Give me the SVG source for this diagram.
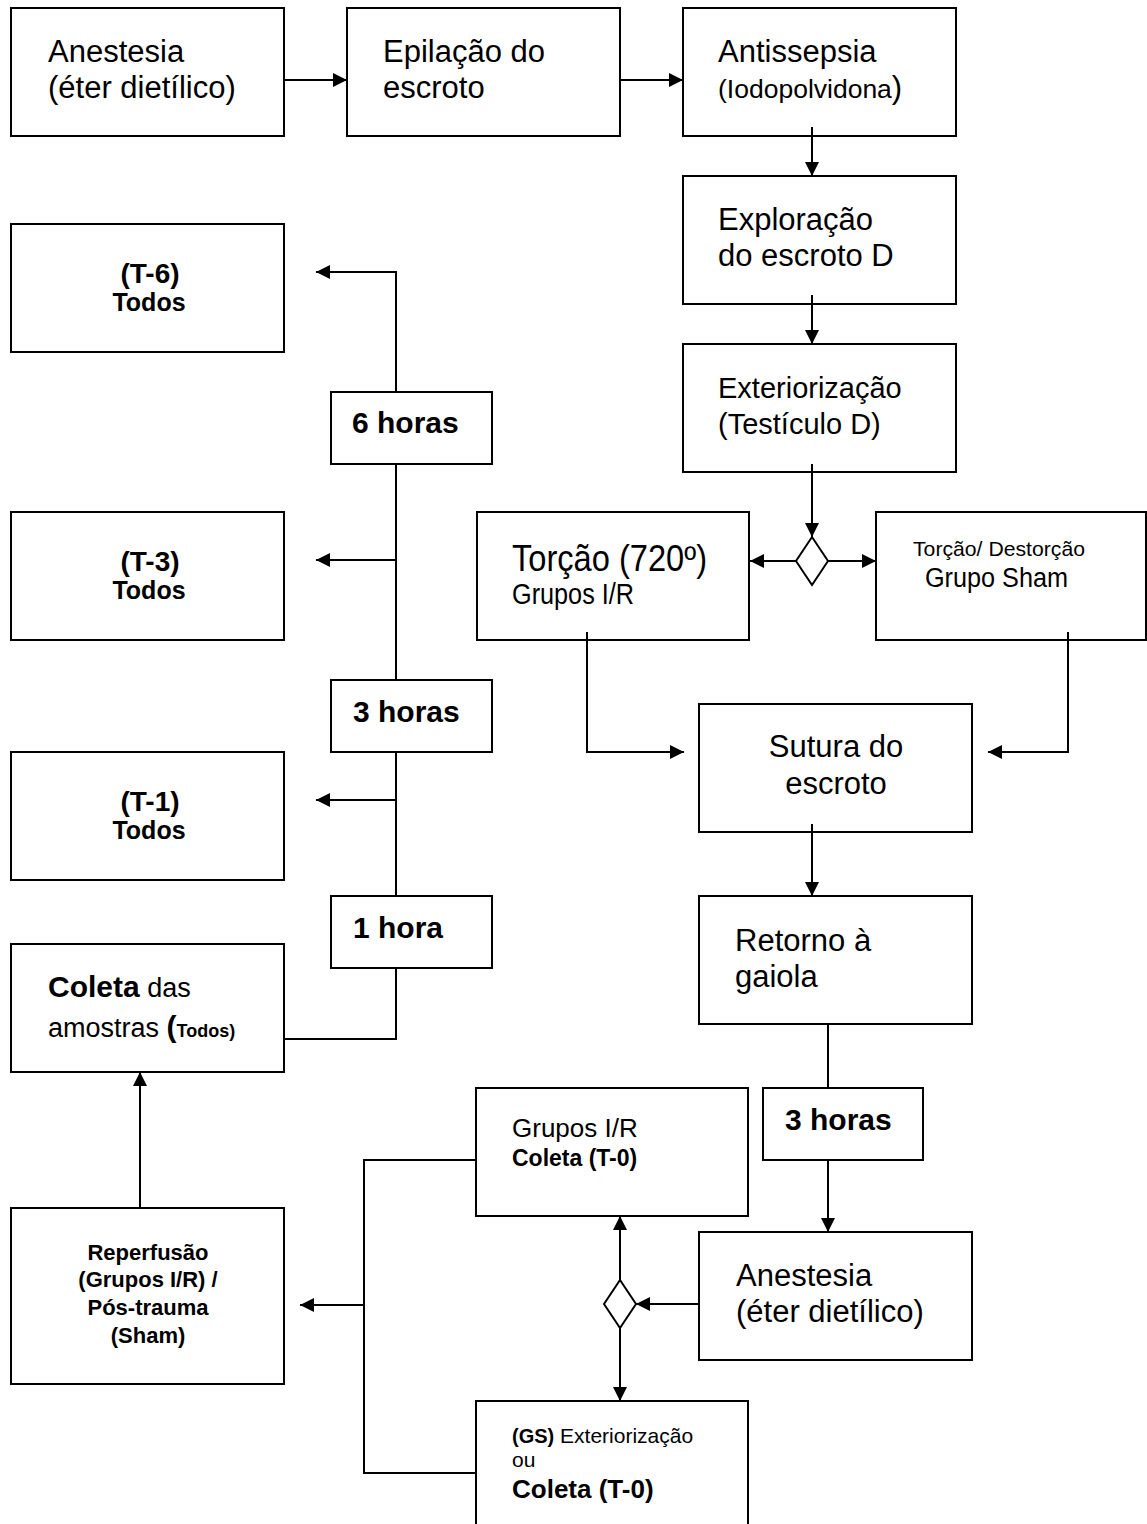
<svg xmlns="http://www.w3.org/2000/svg" width="1147" height="1524" viewBox="0 0 1147 1524">
<style>
.box{fill:#fff;stroke:#000;stroke-width:2}
.ln{fill:none;stroke:#000;stroke-width:2}
.ar{marker-end:url(#ah)}
text{font-family:"Liberation Sans",Arial,sans-serif;fill:#000}
.r31{font-size:31px}
.b30{font-size:30px;font-weight:bold}
.b{font-weight:bold}
.c{text-anchor:middle}
</style>
<defs>
<marker id="ah" markerUnits="userSpaceOnUse" markerWidth="15" markerHeight="14" refX="14" refY="7" orient="auto">
<path d="M0,0 L14,7 L0,14 z" fill="#000"/>
</marker>
</defs>
<rect width="1147" height="1524" fill="#fff"/>
<g id="n-anestesia1"><rect class="box" x="11" y="8" width="273" height="128"/>
<text class="r31" x="48" y="62">Anestesia</text><text class="r31" x="48" y="98">(éter dietílico)</text></g>
<g id="n-epilacao"><rect class="box" x="347" y="8" width="273" height="128"/>
<text class="r31" x="383" y="62">Epilação do</text><text class="r31" x="383" y="98">escroto</text></g>
<g id="n-antissepsia"><rect class="box" x="683" y="8" width="273" height="128"/>
<text class="r31" x="718" y="62">Antissepsia</text><text x="718" y="98" font-size="26.5">(Iodopolvidona<tspan font-size="31">)</tspan></text></g>
<g id="n-exploracao"><rect class="box" x="683" y="176" width="273" height="128"/>
<text class="r31" x="718" y="230">Exploração</text><text class="r31" x="718" y="266">do escroto D</text></g>
<g id="n-exteriorizacao"><rect class="box" x="683" y="344" width="273" height="128"/>
<text x="718" y="398" font-size="29">Exteriorização</text><text x="718" y="434" font-size="29">(Testículo D)</text></g>
<g id="n-torcao"><rect class="box" x="477" y="512" width="272" height="128"/>
<text x="512" y="571" font-size="36" textLength="195" lengthAdjust="spacingAndGlyphs">Torção (720º)</text>
<text x="512" y="604" font-size="29" textLength="122" lengthAdjust="spacingAndGlyphs">Grupos I/R</text></g>
<g id="n-sham"><rect class="box" x="876" y="512" width="270" height="128"/>
<text x="913" y="556" font-size="21" textLength="172" lengthAdjust="spacingAndGlyphs">Torção/ Destorção</text>
<text x="925" y="587" font-size="27" textLength="143" lengthAdjust="spacingAndGlyphs">Grupo Sham</text></g>
<g id="d-1"><path class="box" d="M812,537 L828,561 L812,585 L796,561 z"/></g>
<g id="n-sutura"><rect class="box" x="699" y="704" width="273" height="128"/>
<text class="r31 c" x="836" y="757">Sutura do</text><text class="r31 c" x="836" y="794">escroto</text></g>
<g id="n-retorno"><rect class="box" x="699" y="896" width="273" height="128"/>
<text class="r31" x="735" y="951">Retorno à</text><text class="r31" x="735" y="987">gaiola</text></g>
<g id="n-3horas-r"><rect class="box" x="763" y="1088" width="160" height="72"/>
<text class="b30" x="785" y="1130">3 horas</text></g>
<g id="n-anestesia2"><rect class="box" x="699" y="1232" width="273" height="128"/>
<text class="r31" x="736" y="1286">Anestesia</text><text class="r31" x="736" y="1322">(éter dietílico)</text></g>
<g id="n-grupos-ir"><rect class="box" x="476" y="1088" width="272" height="128"/>
<text x="512" y="1137" font-size="26">Grupos I/R</text><text class="b" x="512" y="1166" font-size="23">Coleta (T-0)</text></g>
<g id="d-2"><path class="box" d="M620,1280 L636,1304 L620,1328 L604,1304 z"/></g>
<g id="n-gs"><rect class="box" x="476" y="1401" width="272" height="140"/>
<text x="512" y="1443" font-size="21"><tspan class="b" font-size="20">(GS)</tspan> Exteriorização</text>
<text x="512" y="1467" font-size="21">ou</text>
<text class="b" x="512" y="1498" font-size="26">Coleta (T-0)</text></g>
<g id="n-reperfusao"><rect class="box" x="11" y="1208" width="273" height="176"/>
<text class="b c" x="148" y="1260" font-size="22">Reperfusão</text>
<text class="b c" x="148" y="1287" font-size="22">(Grupos I/R) /</text>
<text class="b c" x="148" y="1315" font-size="22">Pós-trauma</text>
<text class="b c" x="148" y="1343" font-size="22">(Sham)</text></g>
<g id="n-coleta"><rect class="box" x="11" y="944" width="273" height="128"/>
<text x="48" y="997"><tspan class="b" font-size="30">Coleta</tspan><tspan font-size="27"> das</tspan></text>
<text x="48" y="1037"><tspan font-size="27">amostras </tspan><tspan class="b" font-size="30">(</tspan><tspan class="b" font-size="18">Todos)</tspan></text></g>
<g id="n-1hora"><rect class="box" x="331" y="896" width="161" height="72"/>
<text class="b30" x="353" y="938">1 hora</text></g>
<g id="n-3horas-l"><rect class="box" x="331" y="680" width="161" height="72"/>
<text class="b30" x="353" y="722">3 horas</text></g>
<g id="n-6horas"><rect class="box" x="331" y="392" width="161" height="72"/>
<text class="b30" x="352" y="433">6 horas</text></g>
<g id="n-t1"><rect class="box" x="11" y="752" width="273" height="128"/>
<text class="b c" x="150" y="811" font-size="28">(T-1)</text><text class="b c" x="149" y="839" font-size="25">Todos</text></g>
<g id="n-t3"><rect class="box" x="11" y="512" width="273" height="128"/>
<text class="b c" x="150" y="571" font-size="28">(T-3)</text><text class="b c" x="149" y="599" font-size="25">Todos</text></g>
<g id="n-t6"><rect class="box" x="11" y="224" width="273" height="128"/>
<text class="b c" x="150" y="283" font-size="28">(T-6)</text><text class="b c" x="149" y="311" font-size="25">Todos</text></g>
<g id="connectors">
<path class="ln ar" d="M284,80 H347"/>
<path class="ln ar" d="M620,80 H683"/>
<path class="ln ar" d="M812,127 V176"/>
<path class="ln ar" d="M812,295 V344"/>
<path class="ln ar" d="M812,464 V537"/>
<path class="ln ar" d="M796,561 H750"/>
<path class="ln ar" d="M828,561 H876"/>
<path class="ln ar" d="M587,632 V752 H684"/>
<path class="ln ar" d="M1068,632 V752 H988"/>
<path class="ln ar" d="M812,824 V896"/>
<path class="ln" d="M828,1024 V1088"/>
<path class="ln ar" d="M828,1160 V1232"/>
<path class="ln ar" d="M699,1304 H636"/>
<path class="ln ar" d="M620,1280 V1216"/>
<path class="ln ar" d="M620,1328 V1401"/>
<path class="ln" d="M476,1160 H364 V1473 H476"/>
<path class="ln ar" d="M364,1305 H300"/>
<path class="ln ar" d="M140,1208 V1072"/>
<path class="ln" d="M284,1039 H396 V968"/>
<path class="ln" d="M396,896 V752"/>
<path class="ln ar" d="M396,800 H316"/>
<path class="ln" d="M396,680 V464"/>
<path class="ln ar" d="M396,560 H316"/>
<path class="ln ar" d="M396,392 V272 H316"/>
</g>
</svg>
